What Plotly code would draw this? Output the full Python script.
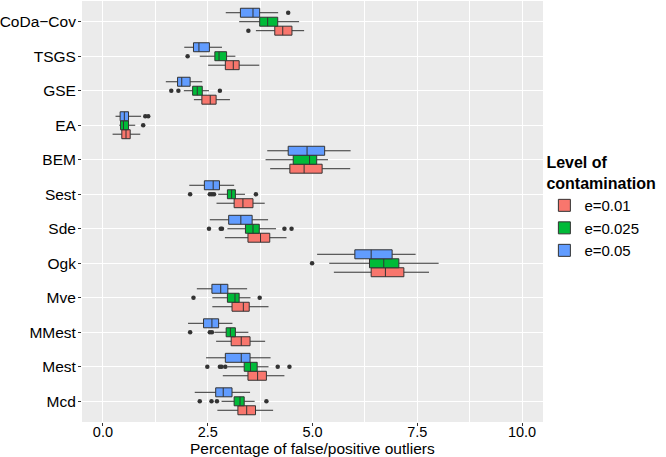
import plotly.graph_objects as go

# Categories as displayed from top to bottom
categories = ["CoDa−Cov", "TSGS", "GSE", "EA", "BEM", "Sest", "Sde", "Ogk",
              "Mve", "MMest", "Mest", "Mcd"]
series_names = ["e=0.01", "e=0.025", "e=0.05"]
series_colors = ["#F8766D", "#00BA38", "#619CFF"]
x_tick_values = [0, 2.5, 5, 7.5, 10]

# e = 0.01
low_001 = [3.65, 2.51, 2.17, 0.23, 3.99, 2.71, 2.91, 5.51, 2.61, 2.70, 2.86, 2.73]
q1_001 = [4.10, 2.92, 2.36, 0.45, 4.46, 3.13, 3.46, 6.40, 3.08, 3.06, 3.46, 3.22]
med_001 = [4.29, 3.11, 2.56, 0.55, 4.80, 3.34, 3.76, 6.74, 3.35, 3.30, 3.69, 3.43]
q3_001 = [4.51, 3.25, 2.70, 0.65, 5.23, 3.58, 3.98, 7.18, 3.49, 3.51, 3.90, 3.64]
high_001 = [4.80, 3.73, 3.03, 0.89, 5.90, 3.86, 4.38, 7.78, 3.95, 3.87, 4.33, 4.06]
out_001 = [[3.47], [], [], [], [], [], [], [], [], [], [], []]

# e = 0.025
low_0025 = [3.25, 2.31, 1.93, 0.39, 3.88, 2.75, 2.97, 5.40, 2.61, 2.66, 2.97, 2.83]
q1_0025 = [3.74, 2.67, 2.14, 0.42, 4.54, 2.97, 3.40, 6.36, 2.97, 2.94, 3.37, 3.13]
med_0025 = [3.93, 2.77, 2.25, 0.49, 4.93, 3.07, 3.58, 6.70, 3.15, 3.04, 3.52, 3.27]
q3_0025 = [4.17, 2.95, 2.37, 0.61, 5.10, 3.16, 3.73, 7.06, 3.25, 3.16, 3.68, 3.37]
high_0025 = [4.68, 3.16, 2.53, 0.77, 5.37, 3.39, 4.13, 8.01, 3.52, 3.47, 3.95, 3.62]
out_0025 = [[], [2.02], [1.63, 1.80, 2.79], [0.96], [],
            [2.08, 2.55, 2.60, 2.65, 3.65], [2.53, 2.81, 2.84, 4.33, 4.50],
            [4.99], [2.16, 3.74], [2.08, 2.55, 2.60],
            [2.49, 2.79, 2.83, 2.92, 4.17, 4.45], [2.31, 2.59, 2.72, 3.90]]

# e = 0.05
low_005 = [2.93, 1.94, 1.50, 0.30, 3.92, 2.06, 2.55, 5.11, 2.24, 2.03, 2.46, 2.19]
q1_005 = [3.28, 2.16, 1.78, 0.41, 4.42, 2.42, 3.00, 6.01, 2.60, 2.40, 2.92, 2.69]
med_005 = [3.58, 2.29, 1.88, 0.51, 4.87, 2.63, 3.29, 6.40, 2.81, 2.60, 3.30, 2.87]
q3_005 = [3.74, 2.54, 2.08, 0.61, 5.29, 2.78, 3.56, 6.90, 2.98, 2.76, 3.51, 3.08]
high_005 = [4.18, 2.84, 2.37, 0.91, 5.91, 3.13, 3.94, 7.46, 3.44, 3.09, 4.00, 3.51]
out_005 = [[4.42], [], [], [1.01, 1.08], [], [], [], [], [], [], [], []]

series = [
    (low_001, q1_001, med_001, q3_001, high_001, out_001),
    (low_0025, q1_0025, med_0025, q3_0025, high_0025, out_0025),
    (low_005, q1_005, med_005, q3_005, high_005, out_005),
]

n = len(categories)
cat_pos = [n - 1 - i for i in range(n)]
dodge = 0.26
offsets = [-dodge, 0.0, dodge]

fig = go.Figure()
for k, (lo, q1, med, q3, hi, outs) in enumerate(series):
    pos = [p + offsets[k] for p in cat_pos]
    fig.add_trace(go.Box(
        y=pos, q1=q1, median=med, q3=q3, lowerfence=lo, upperfence=hi,
        orientation="h", width=dodge, whiskerwidth=0,
        fillcolor=series_colors[k],
        line=dict(color="#333333", width=1),
        boxpoints=False, name=series_names[k], legendgroup=series_names[k],
    ))
    ox, oy = [], []
    for i, vals in enumerate(outs):
        for v in vals:
            ox.append(v)
            oy.append(pos[i])
    fig.add_trace(go.Scatter(
        x=ox, y=oy, mode="markers",
        marker=dict(color="#333333", size=4.5),
        showlegend=False, legendgroup=series_names[k], hoverinfo="x",
    ))

font_family = "Liberation Sans, Arial, Helvetica, sans-serif"
fig.update_layout(
    width=666, height=457,
    margin=dict(l=82, r=123, t=1, b=35, autoexpand=False),
    plot_bgcolor="#EBEBEB", paper_bgcolor="white",
    font=dict(family=font_family, color="black", size=15),
    showlegend=True,
    legend=dict(
        x=1.003, xanchor="left", y=0.652, yanchor="top",
        title=dict(text="<b>Level of<br>contamination</b>",
                   font=dict(size=16, color="black")),
        font=dict(size=15, color="black"),
        bgcolor="rgba(0,0,0,0)", traceorder="normal",
    ),
    xaxis=dict(
        range=[-0.5, 10.5], tickvals=x_tick_values, tickformat=".1f",
        showgrid=True, gridcolor="white", gridwidth=1.2,
        minor=dict(tickvals=[1.25, 3.75, 6.25, 8.75], showgrid=True,
                   gridcolor="white", gridwidth=0.6),
        ticks="outside", ticklen=3, tickcolor="#333333",
        ticklabelstandoff=-6,
        tickfont=dict(size=14.5, color="black"),
        zeroline=False, showline=False, automargin=False,
    ),
    yaxis=dict(
        range=[-0.6, n - 1 + 0.6], tickvals=cat_pos, ticktext=categories,
        showgrid=True, gridcolor="white", gridwidth=1.2,
        ticks="outside", ticklen=3, tickcolor="#333333",
        ticklabelstandoff=-1,
        tickfont=dict(size=15.5, color="black"),
        zeroline=False, showline=False, automargin=False,
    ),
    annotations=[dict(
        text="Percentage of false/positive outliers",
        xref="paper", yref="paper", x=0.5, y=-0.0625,
        xanchor="center", yanchor="middle", showarrow=False,
        font=dict(size=15.5, color="black"),
    )],
)

fig.write_html("out.html", config={"displayModeBar": False},
               post_script="document.body.style.margin='0';")
